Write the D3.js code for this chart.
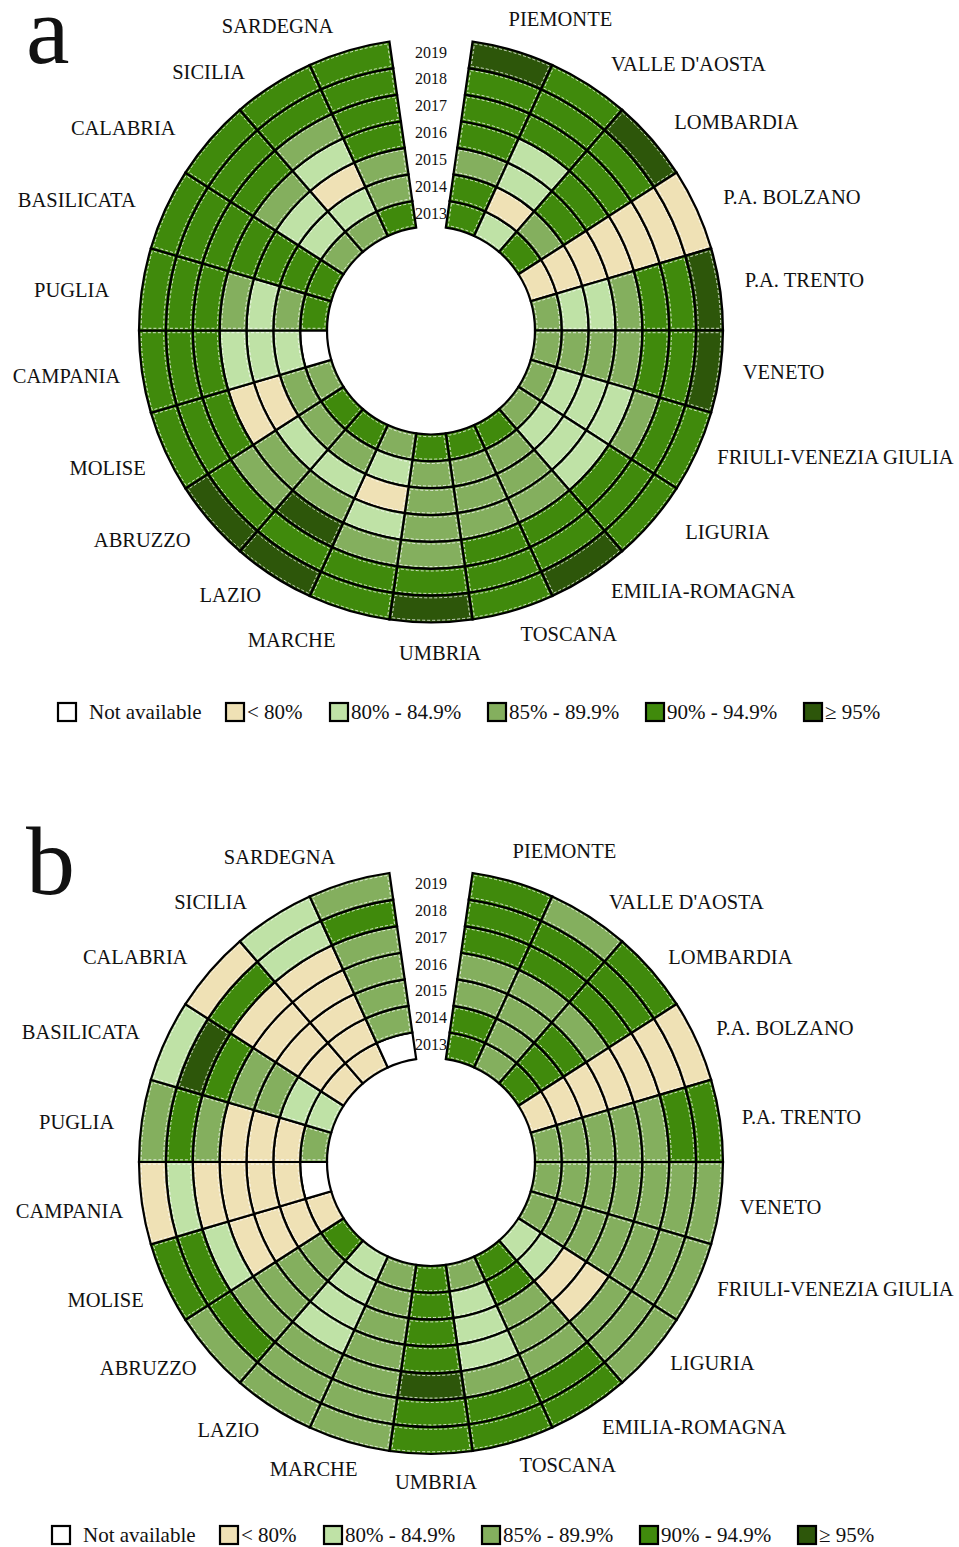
<!DOCTYPE html>
<html>
<head>
<meta charset="utf-8">
<script src="https://cdn.jsdelivr.net/npm/d3@7/dist/d3.min.js"></script>
<style>
  body { margin: 0; background: #ffffff; }
  text { font-family: "Liberation Serif", "Times New Roman", serif; fill: #111; }
</style>
</head>
<body>
<div id="okvir"></div>
<script>
// regions in clockwise order starting after the gap at the top
var regions = ["PIEMONTE", "VALLE D'AOSTA", "LOMBARDIA", "P.A. BOLZANO", "P.A. TRENTO", "VENETO",
    "FRIULI-VENEZIA GIULIA", "LIGURIA", "EMILIA-ROMAGNA", "TOSCANA", "UMBRIA", "MARCHE", "LAZIO",
    "ABRUZZO", "MOLISE", "CAMPANIA", "PUGLIA", "BASILICATA", "CALABRIA", "SICILIA", "SARDEGNA"];
var years = ["2013", "2014", "2015", "2016", "2017", "2018", "2019"];
var classes = ["Not available", "< 80%", "80% - 84.9%", "85% - 89.9%", "90% - 94.9%", "\u2265 95%"];
var classColors = ["#ffffff", "#efe1b5", "#bfe2a6", "#84af5e", "#408a0c", "#2d560a"];

// class index per region, years 2013 -> 2019 (0 = not available ... 5 = >= 95%)
var panelA = [
    [4, 4, 3, 4, 4, 4, 5], // Piemonte
    [2, 1, 2, 2, 4, 4, 4], // Valle d'Aosta
    [4, 3, 4, 4, 4, 4, 5], // Lombardia
    [1, 1, 1, 1, 1, 1, 1], // Bolzano
    [3, 2, 2, 3, 4, 4, 5], // Trento
    [3, 3, 3, 3, 4, 4, 5], // Veneto
    [3, 2, 2, 2, 3, 4, 4], // Friuli-Venezia Giulia
    [3, 2, 2, 2, 4, 4, 4], // Liguria
    [4, 3, 3, 3, 4, 4, 5], // Emilia-Romagna
    [4, 3, 3, 3, 4, 4, 4], // Toscana
    [4, 3, 3, 3, 3, 4, 5], // Umbria
    [3, 2, 1, 2, 3, 4, 4], // Marche
    [4, 3, 2, 3, 5, 4, 5], // Lazio
    [4, 3, 2, 3, 3, 4, 5], // Abruzzo
    [3, 3, 1, 1, 4, 4, 4], // Molise
    [0, 2, 2, 2, 4, 4, 4], // Campania
    [4, 3, 2, 3, 4, 4, 4], // Puglia
    [4, 4, 4, 4, 4, 4, 4], // Basilicata
    [3, 2, 2, 3, 4, 4, 4], // Calabria
    [3, 2, 1, 2, 3, 4, 4], // Sicilia
    [4, 3, 3, 4, 4, 4, 4]  // Sardegna
];
var panelB = [
    [4, 4, 3, 3, 4, 4, 4], // Piemonte
    [3, 3, 3, 3, 4, 4, 3], // Valle d'Aosta
    [4, 4, 4, 3, 4, 4, 4], // Lombardia
    [1, 1, 1, 1, 1, 1, 1], // Bolzano
    [3, 3, 3, 3, 3, 4, 4], // Trento
    [3, 3, 3, 3, 3, 3, 3], // Veneto
    [3, 3, 3, 3, 3, 3, 3], // Friuli-Venezia Giulia
    [2, 2, 1, 1, 3, 3, 3], // Liguria
    [4, 4, 3, 3, 3, 4, 4], // Emilia-Romagna
    [3, 2, 2, 2, 3, 4, 4], // Toscana
    [4, 4, 4, 4, 5, 4, 4], // Umbria
    [3, 3, 3, 3, 3, 3, 3], // Marche
    [2, 2, 2, 2, 3, 3, 3], // Lazio
    [4, 3, 3, 3, 3, 4, 3], // Abruzzo
    [1, 1, 1, 1, 2, 4, 4], // Molise
    [0, 1, 1, 1, 1, 2, 1], // Campania
    [3, 1, 1, 1, 3, 4, 3], // Puglia
    [2, 2, 3, 3, 4, 5, 2], // Basilicata
    [1, 1, 1, 1, 1, 4, 1], // Calabria
    [1, 1, 1, 1, 1, 2, 2], // Sicilia
    [0, 3, 3, 3, 3, 4, 3]  // Sardegna
];

var width = 959;
var height = 1547;

var svg = d3.select("#okvir")
    .append("svg")
    .attr("width", width)
    .attr("height", height);

// one empty slot (of 22) is left at the top for the year labels
var slot = 2 * Math.PI / 22;
var angle = d3.scaleBand()
    .domain(regions)
    .range([slot / 2, 2 * Math.PI - slot / 2]);

var radius = d3.scaleBand()
    .domain(years)
    .range([104, 292]);

var color = d3.scaleOrdinal()
    .domain(d3.range(classes.length))
    .range(classColors);

// layout: label radius and small hand nudges of the region names (as in the original figure)
var labelRadius = 318;
var nudgeA = [[-12, -6], [8, 1], [3, 0], [3, -1], [-1, -5], [-3, -4], [-3, -5], [14, -7], [8, -7], [0, -1],
    [9, 5], [-6, 5], [2, -3], [0, 1], [4, 6], [4, 0], [-7, 5], [-6, 2], [-15, 6], [-14, 9], [-8, 1]];
var nudgeB = [[-8, -6], [6, 8], [-3, 3], [-4, -2], [-4, 0], [-6, 0], [-3, -5], [-1, -7], [-1, -2], [-1, -2],
    [5, 2], [16, 2], [0, 1], [6, -2], [2, 6], [7, 4], [-2, 5], [-2, 2], [-3, 3], [-12, 8], [-6, 0]];
var legendOffsets = [0, 168, 272, 430, 588, 746];

function drawPanel(data, nudge, cx, cy, letter, legendX, legendY) {
    var g = svg.append("g").attr("transform", "translate(" + cx + "," + cy + ")");

    var cells = [];
    regions.forEach(function (r, i) {
        years.forEach(function (y, j) {
            cells.push({ region: r, year: y, value: data[i][j] });
        });
    });

    var arc = d3.arc()
        .innerRadius(d => radius(d.year))
        .outerRadius(d => radius(d.year) + radius.bandwidth())
        .startAngle(d => angle(d.region))
        .endAngle(d => angle(d.region) + angle.bandwidth());

    var inset = d3.arc()
        .innerRadius(d => radius(d.year) + 2.2)
        .outerRadius(d => radius(d.year) + radius.bandwidth() - 2.2)
        .startAngle(d => angle(d.region))
        .endAngle(d => angle(d.region) + angle.bandwidth())
        .padRadius(100)
        .padAngle(0.044);

    // cells
    g.selectAll("path.cell")
        .data(cells)
        .enter()
        .append("path")
        .attr("class", "cell")
        .attr("d", arc)
        .attr("fill", d => color(d.value))
        .attr("stroke", "#000")
        .attr("stroke-width", 2.2);

    // white dashed inner border of each cell
    g.selectAll("path.inset")
        .data(cells)
        .enter()
        .append("path")
        .attr("class", "inset")
        .attr("d", inset)
        .attr("fill", "none")
        .attr("stroke", "#ffffff")
        .attr("stroke-width", 0.9)
        .attr("stroke-dasharray", "3,2")
        .attr("opacity", 0.85);

    // region names
    g.selectAll("text.region")
        .data(regions)
        .enter()
        .append("text")
        .attr("class", "region")
        .each(function (d, i) {
            var a = angle(d) + angle.bandwidth() / 2;
            var s = Math.sin(a);
            d3.select(this)
                .attr("x", labelRadius * s + nudge[i][0])
                .attr("y", -labelRadius * Math.cos(a) + nudge[i][1])
                .attr("dy", "0.33em")
                .attr("text-anchor", Math.abs(s) < 0.05 ? "middle" : (s > 0 ? "start" : "end"));
        })
        .style("font-size", "20.5px")
        .text(d => d);

    // year labels in the gap
    g.selectAll("text.year")
        .data(years)
        .enter()
        .append("text")
        .attr("class", "year")
        .attr("x", 0)
        .attr("y", d => -(radius(d) + radius.bandwidth() / 2))
        .attr("dy", "0.35em")
        .attr("text-anchor", "middle")
        .style("font-size", "16px")
        .text(d => d);

    // panel letter
    svg.append("text")
        .attr("x", 26)
        .attr("y", cy - 268)
        .style("font-size", "98px")
        .text(letter);

    // legend
    var leg = svg.append("g")
        .selectAll("g")
        .data(classes)
        .enter()
        .append("g")
        .attr("transform", (d, i) => "translate(" + (legendX + legendOffsets[i]) + "," + legendY + ")");

    leg.append("rect")
        .attr("x", 0)
        .attr("y", -9)
        .attr("width", 18)
        .attr("height", 18)
        .attr("fill", (d, i) => color(i))
        .attr("stroke", "#000")
        .attr("stroke-width", 2.2);

    leg.append("text")
        .attr("x", (d, i) => i === 0 ? 31 : 21)
        .attr("y", 0)
        .attr("dy", "0.35em")
        .style("font-size", "21px")
        .text(d => d);
}

drawPanel(panelA, nudgeA, 431, 330.5, "a", 58, 712);
drawPanel(panelB, nudgeB, 431, 1162, "b", 52, 1535);
</script>
</body>
</html>
